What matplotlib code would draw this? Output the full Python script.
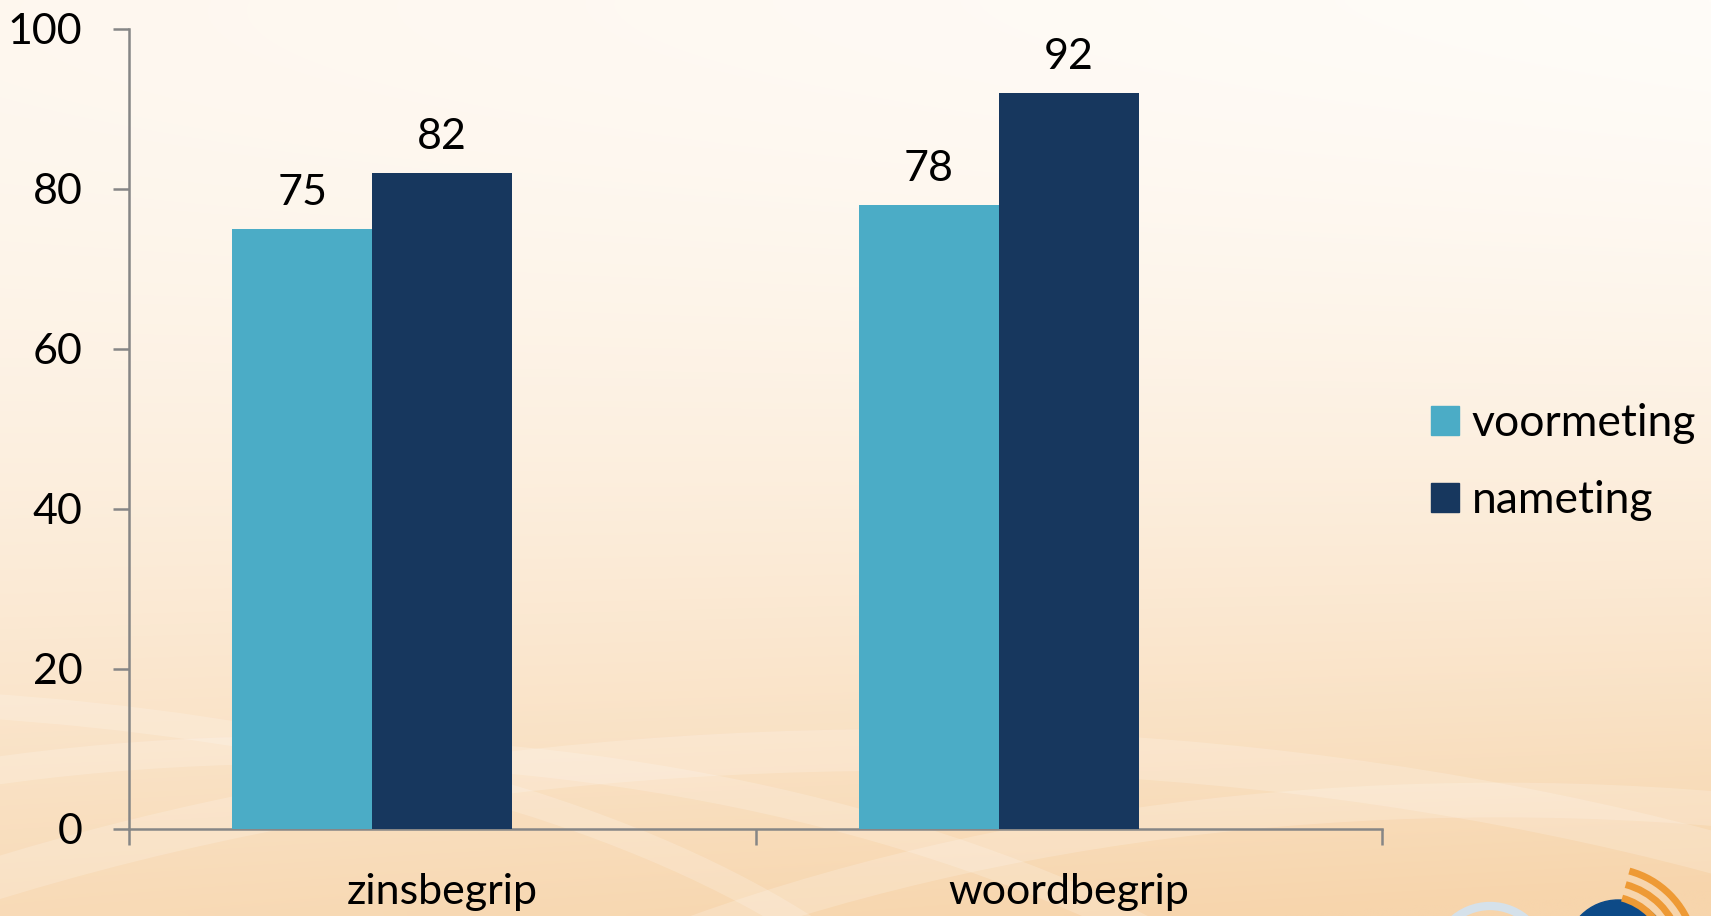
import numpy as np
import matplotlib
matplotlib.use("Agg")
from matplotlib import pyplot as plt
from matplotlib.patches import Arc, Circle, Ellipse, Patch

# data
categories = ["zinsbegrip", "woordbegrip"]
series_names = ["voormeting", "nameting"]
voormeting = [75, 78]
nameting = [82, 92]
y_ticks = [0, 20, 40, 60, 80, 100]

plt.rcParams['font.family'] = ['Lato', 'DejaVu Sans']

W, H = 1711, 916
fig = plt.figure(figsize=(W / 100, H / 100), dpi=100)

#%% background gradient
bg = fig.add_axes([0, 0, 1, 1], zorder=-10)
yy, xx = np.mgrid[0:1:300j, 0:1:560j]
t = 0.85 * yy ** 1.8 + 0.2 * (1 - xx) * (1 - yy) ** 0.5 * 0.6 + 0.2 * xx * yy ** 1.2
t = np.clip(t, 0, 1)
c0 = np.array([255, 252, 248]) / 255
c1 = np.array([247, 213, 172]) / 255
img = c0[None, None, :] * (1 - t[..., None]) + c1[None, None, :] * t[..., None]
bg.imshow(img, extent=[0, W, H, 0], aspect='auto', interpolation='bilinear')
# faint white swooshes (big ellipses, clipped by the canvas)
for (cx, cy, ew, eh, lw) in [(900, 1700, 3600, 1900, 30),
                             (300, 1500, 2600, 1500, 20),
                             (1500, 1650, 3000, 1700, 25),
                             (-200, 1200, 2400, 1000, 18)]:
    bg.add_patch(Ellipse((cx, cy), ew, eh, fill=False, ec='white',
                         lw=lw, alpha=0.18))
# logo pieces at bottom right
bg.add_patch(Circle((1490, 962), 56, fill=False, ec='#d5e1ea', lw=6))
bg.add_patch(Circle((1618, 952), 52, color='#0d4a87'))
for r in [62, 76, 90]:
    bg.add_patch(Arc((1606, 958), 2 * r, 2 * r, theta1=285, theta2=345,
                     color='#ee9a35', lw=5))
bg.set_xlim(0, W)
bg.set_ylim(H, 0)
bg.axis('off')

#%% main chart
ax = fig.add_axes([129 / W, (H - 829) / H, (1382 - 129) / W, 800 / H])
ax.patch.set_alpha(0)

x = np.arange(len(categories))
w = 0.2235
# bars sit left of centre: the third (empty) slot is on the right
b1 = ax.bar(x - w, voormeting, w, color='#4BACC6',
            label=series_names[0], zorder=3)
b2 = ax.bar(x, nameting, w, color='#17375E', label=series_names[1], zorder=3)

for bars, vals in ((b1, voormeting), (b2, nameting)):
    for r, v in zip(bars, vals):
        ax.annotate(str(v), (r.get_x() + r.get_width() / 2, v),
                    xytext=(0, 17), textcoords='offset points',
                    ha='center', va='baseline', fontsize=31, color='black')

ax.set_xlim(-0.5, 1.5)
ax.set_ylim(0, 100)
ax.set_yticks(y_ticks)
ax.set_xticks([-0.5, 0.5, 1.5])
ax.set_xticklabels([])
ax.set_xticks(x, minor=True)
ax.set_xticklabels(categories, minor=True, fontsize=31)
ax.tick_params(axis='x', which='minor', length=0, pad=32)
ax.tick_params(axis='both', which='major', length=11.5, width=1.8,
               color='#868686', direction='out')
ax.tick_params(axis='y', labelsize=31, pad=22)

for s in ['top', 'right']:
    ax.spines[s].set_visible(False)
for s in ['left', 'bottom']:
    ax.spines[s].set_color('#868686')
    ax.spines[s].set_linewidth(1.8)

handles = [Patch(color='#4BACC6'), Patch(color='#17375E')]
fig.legend(handles, series_names, loc='center left',
           bbox_to_anchor=(1431 / W, 1 - 462 / H), bbox_transform=fig.transFigure,
           frameon=False, fontsize=32, handlelength=0.62, handleheight=0.62,
           handletextpad=0.3, labelspacing=0.8, borderpad=0, borderaxespad=0)

fig.savefig('out.png', dpi=100)
